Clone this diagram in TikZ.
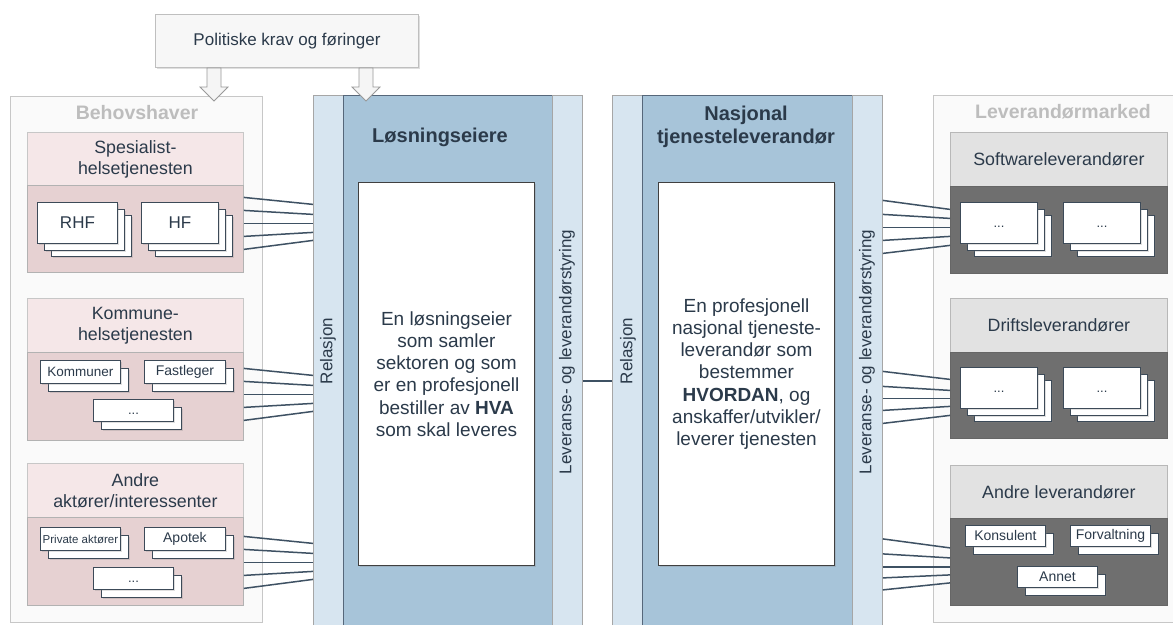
\documentclass[tikz,border=0pt]{standalone}
\usepackage{fontspec}
\setmainfont{Liberation Sans}
\usetikzlibrary{shadows,calc}
\definecolor{txt}{HTML}{2B3A4A}
\definecolor{ttl}{HTML}{BDBDBD}
\definecolor{conn}{HTML}{3E5163}
\definecolor{sbd}{HTML}{3C4A58}
\definecolor{pinkH}{HTML}{F5E7E8}
\definecolor{pinkB}{HTML}{E6D1D2}
\definecolor{grayH}{HTML}{E2E2E2}
\definecolor{grayB}{HTML}{6F6F6F}
\definecolor{barC}{HTML}{D7E5F0}
\definecolor{blueM}{HTML}{A7C4D9}
\definecolor{blueE}{HTML}{56677A}
\tikzset{
  box/.style={anchor=north west, align=center, inner sep=0pt},
  cont/.style={box, fill=white!98!black, draw=black!22, line width=1.2pt},
  pinkhead/.style={box, fill=pinkH, draw=black!22, line width=0.8pt, font=\fontsize{17.8}{21}\selectfont},
  pinkbody/.style={box, fill=pinkB, draw=black!30, line width=0.8pt},
  grayhead/.style={box, fill=grayH, draw=black!28, line width=0.8pt, font=\fontsize{17.8}{21}\selectfont},
  graybody/.style={box, fill=grayB, draw=black!60, line width=0.8pt},
  sbox/.style={box, fill=white, draw=sbd, line width=0.9pt},
  barbox/.style={box, fill=barC, draw=black!35, line width=0.8pt},
  mainbox/.style={box, fill=blueM, draw=blueE, line width=1pt},
  innerbox/.style={box, fill=white, draw=black!75, line width=1pt, font=\fontsize{19}{22.3}\selectfont},
  ctitle/.style={text=ttl, font=\bfseries\fontsize{19.5}{22}\selectfont},
  mtitle/.style={align=center, font=\bfseries\fontsize{20}{23}\selectfont},
  rotlab/.style={rotate=90, font=\fontsize{17}{20}\selectfont},
  link/.style={draw=conn, line width=1.5pt},
  blockarr/.style={fill=black!4, draw=black!40, line width=0.8pt, line join=miter},
  shad/.style={drop shadow={opacity=0.25,shadow xshift=1.5pt,shadow yshift=-1.5pt}}
}
\newcommand{\mystackA}[7]{% name x y w h font text : three layers
  \node[sbox, minimum width=#4, minimum height=#5, shad] at (#2+14,#3+13) {};
  \node[sbox, minimum width=#4, minimum height=#5, shad] at (#2+7,#3+7) {};
  \node[sbox, minimum width=#4, minimum height=#5, font=#6, shad] (#1) at (#2,#3) {#7};}
\newcommand{\mystackB}[7]{% two layers
  \node[sbox, minimum width=#4, minimum height=#5, shad] at (#2+8,#3+8) {};
  \node[sbox, minimum width=#4, minimum height=#5, font=#6, shad] (#1) at (#2,#3) {#7};}
\newcommand{\mydots}{\rule{0pt}{9pt}...}
\begin{document}
\begin{tikzpicture}[x=1pt, y=-1pt, every node/.style={text=txt}]
\useasboundingbox (0,0) rectangle (1173,624);
\fill[white] (0,0) rectangle (1173,624);

% top box
\node[box, fill=white!97!black, draw=black!25, line width=1pt, minimum width=263, minimum height=53,
      font=\fontsize{17}{20}\selectfont, shad] (pol) at (155,14) {Politiske krav og føringer};

% containers
\node[cont, minimum width=252, minimum height=526] (beh) at (10,96) {};
\node[ctitle] (behT) at (137,113) {Behovshaver};
\node[cont, minimum width=250, minimum height=527] (lev) at (933,95) {};
\node[ctitle] (levT) at (1063,112) {Leverandørmarked};

% columns
\node[barbox, minimum width=30, minimum height=540] (rel1) at (313,95) {};
\node[mainbox, minimum width=209, minimum height=540] (main1) at (343,95) {};
\node[barbox, minimum width=30, minimum height=540] (lst1) at (552,95) {};
\node[innerbox, minimum width=176, minimum height=383, shad] (in1) at (358,182)
  {En løsningseier\\som samler\\sektoren og som\\er en profesjonell\\bestiller av \textbf{HVA}\\som skal leveres};
\node[mtitle] (t1) at (440,137) {Løsningseiere};
\node[rotlab] (r1) at (328,351) {Relasjon};
\node[rotlab] (l1) at (567,352) {Leveranse- og leverandørstyring};

\node[barbox, minimum width=30, minimum height=540] (rel2) at (612,95) {};
\node[mainbox, minimum width=210, minimum height=540] (main2) at (642,95) {};
\node[barbox, minimum width=30, minimum height=540] (lst2) at (852,95) {};
\node[innerbox, minimum width=176, minimum height=383, shad] (in2) at (658,182)
  {En profesjonell\\nasjonal tjeneste-\\leverandør som\\bestemmer\\\textbf{HVORDAN}, og\\anskaffer/utvikler/\\leverer tjenesten};
\node[mtitle] (t2) at (746,127) {Nasjonal\\tjenesteleverandør};
\node[rotlab] (r2) at (628,351) {Relasjon};
\node[rotlab] (l2) at (867,352) {Leveranse- og leverandørstyring};

\draw[link] ([yshift=-15.5]lst1.east) -- ([yshift=-15.5]lst1.east -| rel2.west);

% block arrows from the top box
\coordinate (a1) at (pol.south -| 214,0);
\coordinate (a2) at (pol.south -| 366,0);
\foreach \a in {a1,a2}
  \draw[blockarr] ($(\a)+(-7,0)$) -- ($(\a)+(7,0)$) -- ($(\a)+(7,19)$) -- ($(\a)+(14,19)$)
     -- ($(\a)+(0,33)$) -- ($(\a)+(-14,19)$) -- ($(\a)+(-7,19)$) -- cycle;

% left groups
\node[pinkhead, minimum width=216, minimum height=53] (sph) at (27,132) {Spesialist-\\helsetjenesten};
\node[pinkbody, minimum width=216, minimum height=87] (spb) at (27,185) {};
\mystackA{rhf}{37}{202}{80}{41}{\fontsize{17}{20}\selectfont}{RHF}
\mystackA{hf}{141}{202}{77}{41}{\fontsize{17}{20}\selectfont}{HF}

\node[pinkhead, minimum width=216, minimum height=54] (koh) at (27,298) {Kommune-\\helsetjenesten};
\node[pinkbody, minimum width=216, minimum height=88] (kob) at (27,352) {};
\mystackB{kom}{40}{360}{80}{23}{\fontsize{13.5}{16}\selectfont}{Kommuner}
\mystackB{fas}{144}{360}{81}{23}{\fontsize{14}{16}\selectfont}{Fastleger}
\mystackB{kdot}{93}{399}{80}{22}{\fontsize{13}{16}\selectfont}{\mydots}

\node[pinkhead, minimum width=216, minimum height=54] (anh) at (27,463) {Andre\\aktører/interessenter};
\node[pinkbody, minimum width=216, minimum height=88] (anb) at (27,517) {};
\mystackB{pri}{40}{527}{80}{23}{\fontsize{11.5}{14}\selectfont}{Private aktører}
\mystackB{apo}{144}{527}{81}{23}{\fontsize{14}{16}\selectfont}{Apotek}
\mystackB{adot}{93}{567}{80}{22}{\fontsize{13}{16}\selectfont}{\mydots}

% right groups
\node[grayhead, minimum width=217, minimum height=54] (swh) at (950,132) {Softwareleverandører};
\node[graybody, minimum width=217, minimum height=87] (swb) at (950,186) {};
\mystackA{sw1}{960}{202}{77}{41}{\fontsize{13}{16}\selectfont}{\mydots}
\mystackA{sw2}{1063}{202}{77}{41}{\fontsize{13}{16}\selectfont}{\mydots}

\node[grayhead, minimum width=217, minimum height=54] (drh) at (950,298) {Driftsleverandører};
\node[graybody, minimum width=217, minimum height=86] (drb) at (950,352) {};
\mystackA{dr1}{960}{367}{77}{41}{\fontsize{13}{16}\selectfont}{\mydots}
\mystackA{dr2}{1063}{367}{77}{41}{\fontsize{13}{16}\selectfont}{\mydots}

\node[grayhead, minimum width=217, minimum height=53] (alh) at (950,465) {Andre leverandører};
\node[graybody, minimum width=217, minimum height=87] (alb) at (950,518) {};
\mystackB{kon}{965}{525}{80}{21}{\fontsize{14}{16}\selectfont}{Konsulent}
\mystackB{for}{1070}{525}{80}{21}{\fontsize{14}{16}\selectfont}{Forvaltning}
\mystackB{ann}{1017}{566}{80}{21}{\fontsize{14}{16}\selectfont}{Annet}

% fans (image-y offsets relative to body centre)
\foreach \c in {-5.5} \foreach \l/\r in {-26/-19,-13/-9,0/0,13/9,26/17}
  \draw[link] ([yshift=-\c-\l]spb.east) -- ([yshift=-\c-\r]spb.east -| rel1.west);
\foreach \c in {-2} \foreach \l/\r in {-26/-19,-13/-9,0/0,13/9,26/17}
  \draw[link] ([yshift=-\c-\l]kob.east) -- ([yshift=-\c-\r]kob.east -| rel1.west);
\foreach \c in {1} \foreach \l/\r in {-26/-19,-13/-9,0/0,13/9,26/17}
  \draw[link] ([yshift=-\c-\l]anb.east) -- ([yshift=-\c-\r]anb.east -| rel1.west);
\foreach \c in {-2.5} \foreach \l/\r in {-27/-18,-13/-9,0/0,13/9,26/18}
  \draw[link] ([yshift=-\c-\l]swb.west -| lst2.east) -- ([yshift=-\c-\r]swb.west);
\foreach \c in {3} \foreach \l/\r in {-27/-19,-12/-8,0/0,12/8,25/17}
  \draw[link] ([yshift=-\c-\l]drb.west -| lst2.east) -- ([yshift=-\c-\r]drb.west);
\foreach \c in {5} \foreach \l/\r in {-28/-19,-13/-9,0/0,11/8,23/16}
  \draw[link] ([yshift=-\c-\l]alb.west -| lst2.east) -- ([yshift=-\c-\r]alb.west);
\end{tikzpicture}
\end{document}
